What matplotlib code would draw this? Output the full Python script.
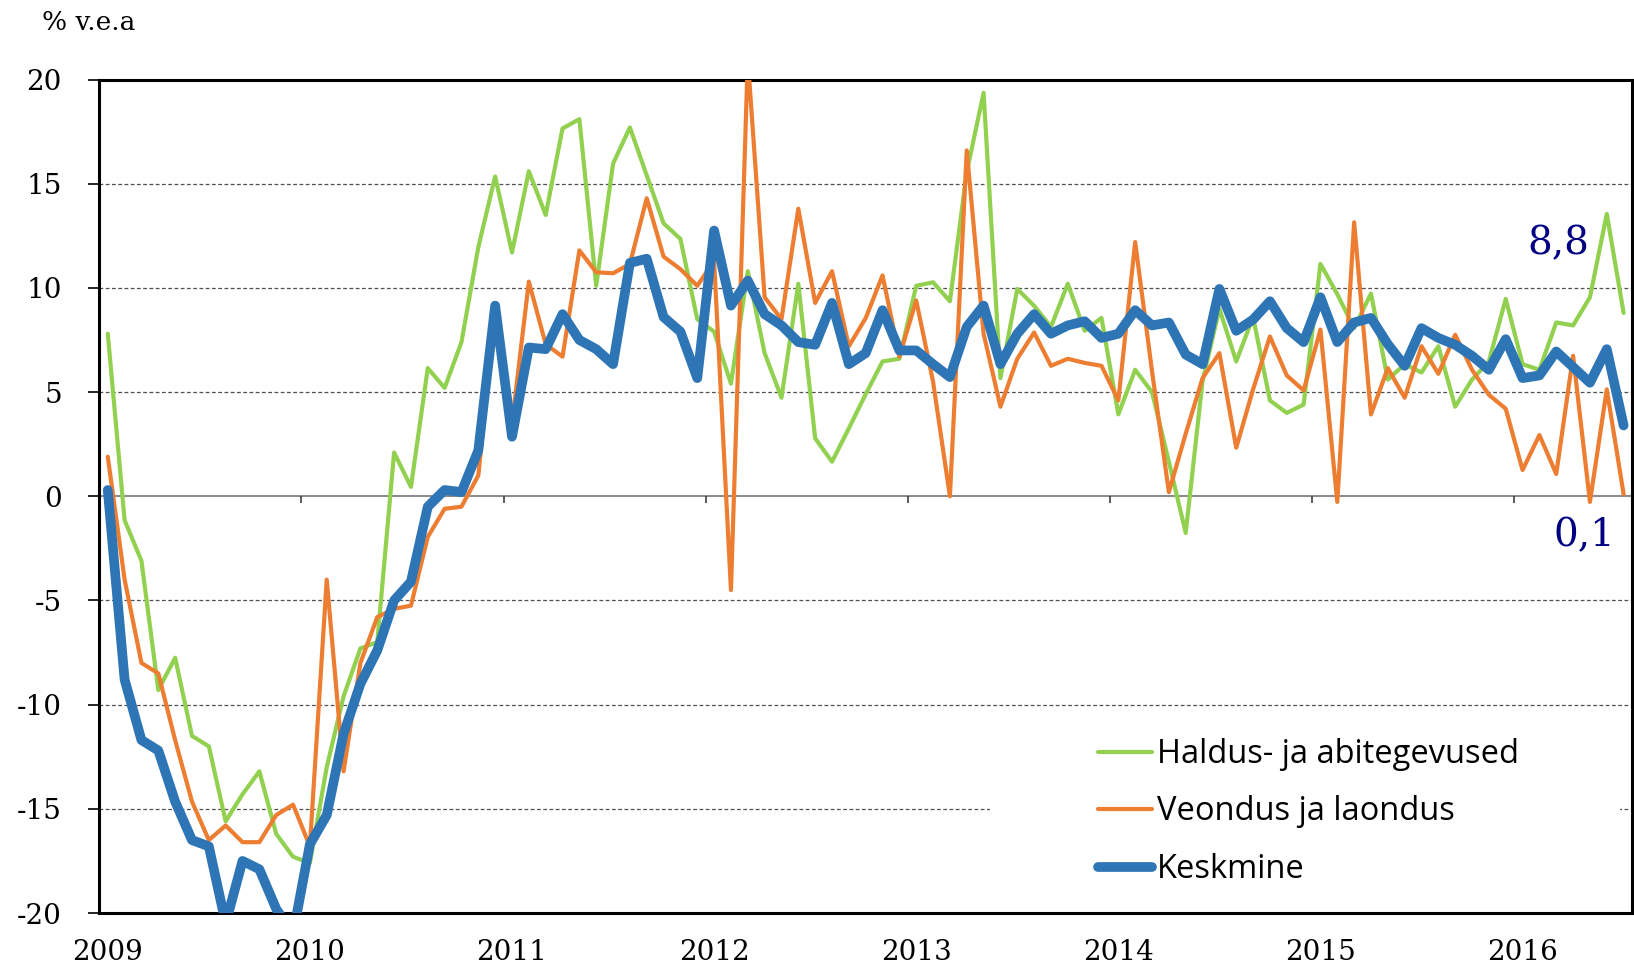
import numpy as np
import matplotlib.pyplot as plt
from matplotlib.patches import Rectangle

# monthly y/y growth, Jan 2009 .. Jul 2016
years = ['2009', '2010', '2011', '2012', '2013', '2014', '2015', '2016']
series_names = ['Haldus- ja abitegevused', 'Veondus ja laondus', 'Keskmine']

haldus = [7.8, -1.15, -3.1, -9.3, -7.75, -11.5, -12.0, -15.6, -14.3, -13.2, -16.2, -17.3,
          -17.6, -13.0, -9.6, -7.3, -7.0, 2.1, 0.45, 6.15, 5.2, 7.4, 11.95, 15.35,
          11.7, 15.6, 13.5, 17.65, 18.1, 10.1, 15.96, 17.7, 15.4, 13.1, 12.35, 8.5,
          7.9, 5.4, 10.8, 6.87, 4.73, 10.2, 2.78, 1.66, 3.26, 4.9, 6.47, 6.6,
          10.1, 10.27, 9.36, 15.56, 19.36, 5.67, 9.95, 9.14, 8.13, 10.2, 7.94, 8.56,
          3.93, 6.07, 5.0, 1.66, -1.76, 5.53, 9.0, 6.47, 8.6, 4.6, 4.0, 4.4,
          11.15, 9.7, 8.07, 9.73, 5.6, 6.34, 5.94, 7.2, 4.3, 5.6, 6.47, 9.47,
          6.34, 6.07, 8.34, 8.2, 9.55, 13.55, 8.8]

veondus = [1.9, -4.0, -8.0, -8.5, -11.7, -14.65, -16.5, -15.8, -16.6, -16.6, -15.3, -14.8,
           -16.8, -4.0, -13.2, -8.0, -5.8, -5.4, -5.25, -1.95, -0.6, -0.5, 1.0, 8.8,
           3.5, 10.3, 7.3, 6.7, 11.8, 10.75, 10.7, 11.15, 14.3, 11.5, 10.9, 10.1,
           11.3, -4.5, 21.0, 9.55, 8.5, 13.8, 9.28, 10.8, 7.2, 8.55, 10.6, 6.7,
           9.4, 5.5, 0.0, 16.6, 7.8, 4.3, 6.6, 7.86, 6.26, 6.6, 6.4, 6.26,
           4.6, 12.2, 6.0, 0.2, 3.0, 5.67, 6.87, 2.33, 5.13, 7.67, 5.8, 5.08,
           8.0, -0.27, 13.15, 3.93, 6.15, 4.73, 7.2, 5.88, 7.75, 6.07, 4.87, 4.2,
           1.26, 2.94, 1.07, 6.74, -0.27, 5.13, 0.1]

keskmine = [0.3, -8.8, -11.7, -12.2, -14.65, -16.5, -16.8, -20.5, -17.5, -17.9, -19.8, -21.0,
            -16.7, -15.3, -11.4, -9.0, -7.4, -5.0, -4.1, -0.5, 0.3, 0.2, 2.2, 9.15,
            2.86, 7.14, 7.06, 8.74, 7.5, 7.06, 6.34, 11.2, 11.4, 8.6, 7.9, 5.67,
            12.75, 9.15, 10.35, 8.74, 8.2, 7.4, 7.27, 9.28, 6.34, 6.87, 8.93, 7.0,
            7.0, 6.34, 5.72, 8.13, 9.15, 6.34, 7.8, 8.74, 7.8, 8.2, 8.4, 7.6,
            7.8, 8.93, 8.2, 8.34, 6.8, 6.34, 9.95, 7.94, 8.48, 9.36, 8.07, 7.4,
            9.55, 7.4, 8.34, 8.56, 7.3, 6.26, 8.07, 7.6, 7.27, 6.74, 6.07, 7.54,
            5.67, 5.8, 6.95, 6.2, 5.45, 7.06, 3.4]

GREEN = '#92D050'
ORANGE = '#ED7D31'
BLUE = '#2E75B6'
NAVY = '#000080'
SERIF = 'DejaVu Serif'
SANS = 'Open Sans'


def fmt(v):
    return f"{v:.1f}".replace('.', ',')


def main():
    fig = plt.figure(figsize=(16.34, 9.71), dpi=100)
    ax = fig.add_axes([0.0608, 0.0597, 0.938, 0.8584])

    x = np.arange(len(keskmine))
    kw = dict(solid_joinstyle='round', solid_capstyle='round')
    ax.plot(x, haldus, color=GREEN, lw=3.0, label=series_names[0], zorder=3, **kw)
    ax.plot(x, veondus, color=ORANGE, lw=3.0, label=series_names[1], zorder=4, **kw)
    ax.plot(x, keskmine, color=BLUE, lw=7.0, label=series_names[2], zorder=5, **kw)

    ax.set_xlim(-0.5, len(keskmine) - 0.5)
    ax.set_ylim(-20, 20)

    # dashed gridlines
    ax.set_yticks(np.arange(-20, 21, 5))
    for v in [-15, -10, -5, 5, 10, 15]:
        ax.axhline(v, color='#505050', lw=0.9, ls=(0, (3, 2)), zorder=0.5)

    # white block behind legend interrupts the -15 gridline
    ax.add_patch(Rectangle((0.581, 0.0), 0.411, 0.225, transform=ax.transAxes,
                           facecolor='white', edgecolor='none', zorder=1))

    # zero line with small tick marks between years
    ax.axhline(0, color='#8c8c8c', lw=1.5, zorder=0.6)
    ax.vlines(np.arange(11.5, len(keskmine), 12), 0.5 - 7 / 833, 0.5,
              transform=ax.get_xaxis_transform(), color='#404040', lw=1.2, zorder=0.7)

    # year labels at bottom
    ax.set_xticks(np.arange(0, len(keskmine), 12))
    ax.set_xticklabels(years, family=SERIF, fontsize=20)
    ax.tick_params(axis='x', length=0, pad=19)
    ax.set_yticklabels([str(v) for v in range(-20, 21, 5)], family=SERIF, fontsize=20)
    ax.tick_params(axis='y', direction='out', length=8, width=1.2, pad=19)

    for s in ax.spines.values():
        s.set_linewidth(2.2)
        s.set_color('black')

    fig.text(0.026, 1 - 22 / 971, '% v.e.a', family=SERIF, fontsize=19, va='center', ha='left')

    ax.annotate(fmt(haldus[-1]), xy=(x[-1], haldus[-1]), xytext=(-47, 50),
                textcoords='offset points', ha='center', va='center',
                family=SERIF, fontsize=28, color=NAVY, zorder=6)
    ax.annotate(fmt(veondus[-1]), xy=(x[-1], veondus[-1]), xytext=(-28, -30),
                textcoords='offset points', ha='center', va='center',
                family=SERIF, fontsize=28, color=NAVY, zorder=6)

    leg = ax.legend(loc='upper left', bbox_to_anchor=(1098 / 1634, 1 - 738 / 971),
                    bbox_transform=fig.transFigure, frameon=False, borderpad=0,
                    borderaxespad=0, handlelength=1.65, handletextpad=0.15,
                    labelspacing=0.75, prop={'family': SANS, 'size': 23.5})
    leg.set_zorder(6)

    fig.savefig('out.png', dpi=100)


if __name__ == '__main__':
    main()
